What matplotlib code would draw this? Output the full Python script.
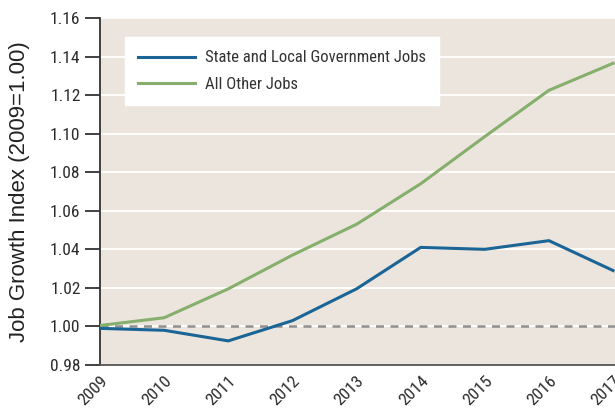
import matplotlib.pyplot as plt
from matplotlib import font_manager
from matplotlib.transforms import ScaledTranslation
import numpy as np

years = [2009, 2010, 2011, 2012, 2013, 2014, 2015, 2016, 2017]
state_local = [0.9990, 0.9980, 0.9925, 1.0030, 1.0195, 1.0410, 1.0400, 1.0445, 1.0290]
all_other = [1.0005, 1.0045, 1.0195, 1.0370, 1.0530, 1.0740, 1.0985, 1.1225, 1.1365]
yticks = [0.98, 1.00, 1.02, 1.04, 1.06, 1.08, 1.10, 1.12, 1.14, 1.16]

# pick a condensed face for the ticks and legend
names = {f.name for f in font_manager.fontManager.ttflist}
pref = ['Roboto Condensed', 'Archivo Narrow', 'Barlow Semi Condensed', 'Asap Condensed']
narrow = [n for n in pref if n in names][:1] + ['DejaVu Sans']
plt.rcParams['font.family'] = narrow

fig = plt.figure(figsize=(6.15, 4.09), dpi=100)
ax = fig.add_axes([0.1626, 0.1076, 0.8374, 0.8484])
ax.set_facecolor('#ece5de')

for v in yticks[1:]:
    ax.axhline(v, color='white', lw=1.3, zorder=1)
ax.axhline(1.0, color='#8f8f8f', lw=1.8, ls=(0, (3.2, 2.6)), zorder=2)

ax.plot(years, state_local, color='#1a6496', lw=2.2, zorder=3,
        label='State and Local Government Jobs')
ax.plot(years, all_other, color='#86ae6c', lw=2.2, zorder=3,
        label='All Other Jobs')

ax.set_xlim(2009, 2017.03)
ax.set_ylim(0.98, 1.16)
ax.set_yticks(yticks)
ax.set_yticklabels([f'{v:.2f}' for v in yticks], fontsize=12.5, color='#2b2b2b')
ax.set_xticks(years)
ax.set_xticklabels([str(y) for y in years], rotation=45, ha='right',
                   rotation_mode='anchor', fontsize=12.5, color='#2b2b2b')
shift = ScaledTranslation(14 / 100, 0, fig.dpi_scale_trans)
for lbl in ax.get_xticklabels():
    lbl.set_transform(lbl.get_transform() + shift)
ax.tick_params(axis='y', length=11, width=1.3, color='#333333', pad=3)
ax.tick_params(axis='x', length=0, pad=6)
for s in ['top', 'right']:
    ax.spines[s].set_visible(False)
ax.spines['left'].set_color('#333333')
ax.spines['left'].set_linewidth(1.3)
ax.spines['bottom'].set_color('#555555')
ax.spines['bottom'].set_linewidth(1.3)

ax.set_ylabel('Job Growth Index (2009=1.00)', fontsize=16, color='#222222',
              family=['Liberation Sans', 'DejaVu Sans'])
ax.yaxis.set_label_coords(-0.136, 0.5)

leg = ax.legend(loc='upper left', bbox_to_anchor=(0.0485, 0.945), borderaxespad=0,
                frameon=True, fancybox=False, fontsize=12, handlelength=3.4,
                borderpad=0.8, labelspacing=0.7, handletextpad=0.6)
leg.get_frame().set_facecolor('white')
leg.get_frame().set_edgecolor('white')
leg.get_frame().set_alpha(1)
for t in leg.get_texts():
    t.set_color('#333333')

fig.savefig('out.png', dpi=100)
